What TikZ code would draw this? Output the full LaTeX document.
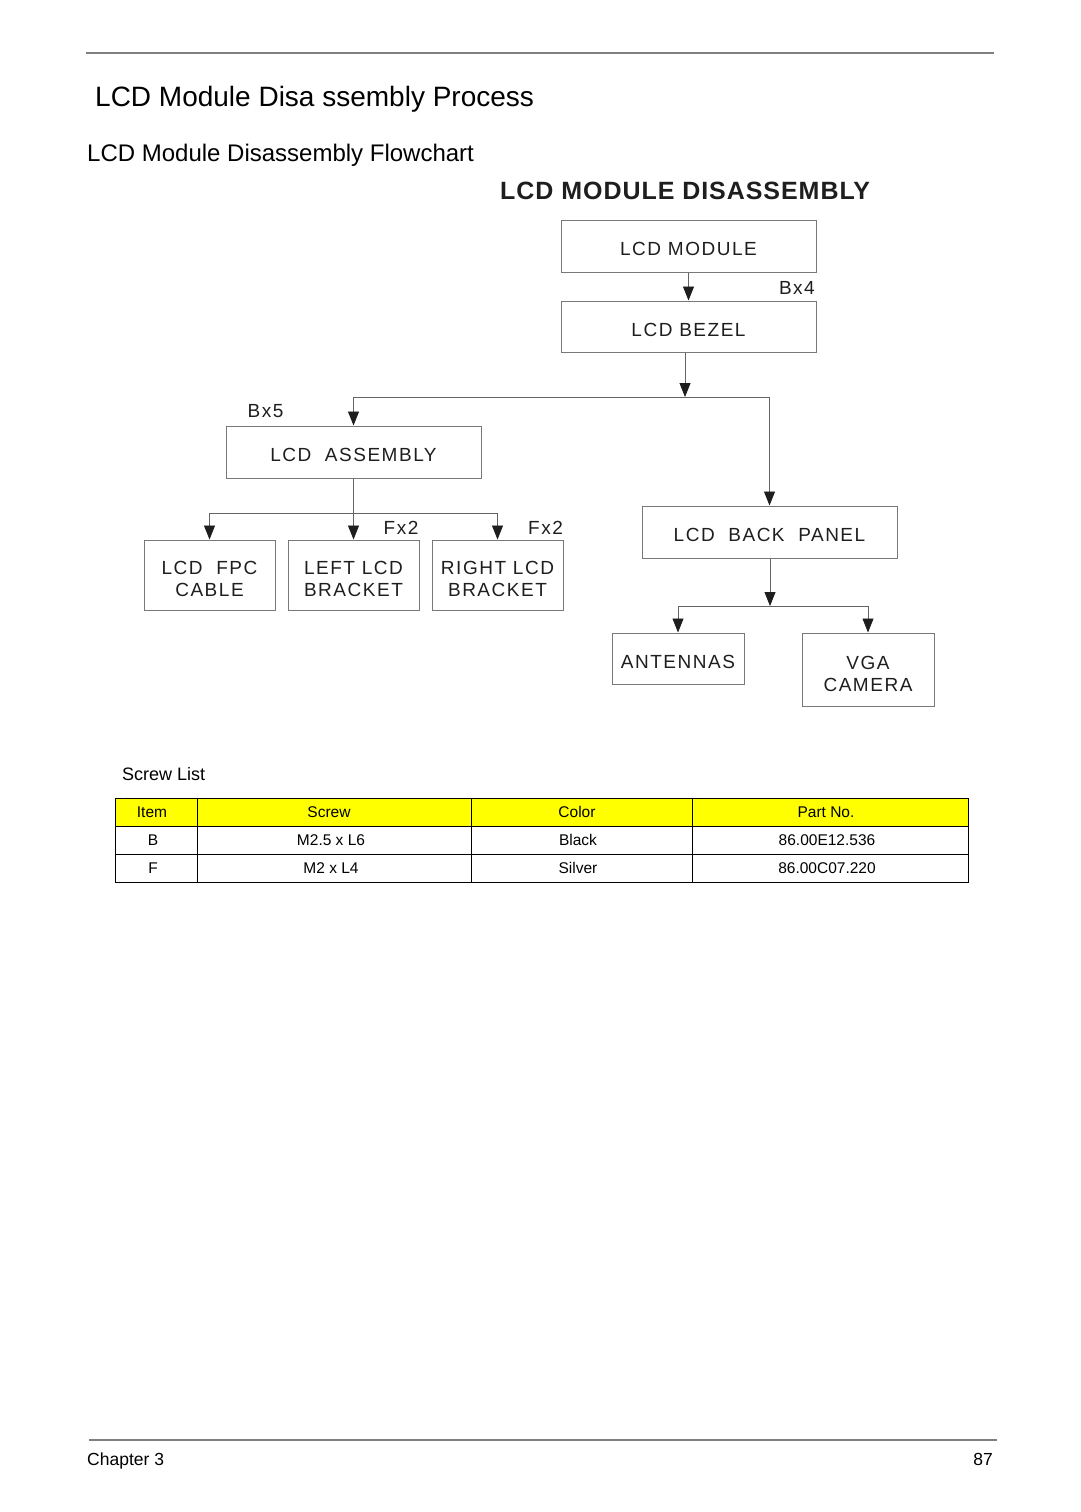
\documentclass[tikz,border=0pt]{standalone}
\usepackage{fontspec}
\setmainfont{Liberation Sans}
\newfontfamily\boxfont{Liberation Sans}[LetterSpace=8]
\newfontfamily\headfont{Liberation Sans}[LetterSpace=3.8]
\usetikzlibrary{arrows.meta,positioning}
\definecolor{boxgray}{RGB}{120,120,120}
\definecolor{linegray}{RGB}{100,100,100}
\definecolor{rulegray}{RGB}{128,128,128}
\definecolor{tipdark}{RGB}{30,30,30}
\definecolor{headyellow}{RGB}{255,255,0}
\newcommand{\twolines}[2]{\rule{0pt}{21.6pt}#1\\#2}
\tikzstyle{part} = [rectangle, draw=boxgray, line width=1pt, minimum width=255pt, minimum height=52pt, inner sep=0pt, align=center, text=tipdark, font=\boxfont\fontsize{19}{22}\selectfont, execute at begin node={\rule{0pt}{20pt}}]
\tikzstyle{small part} = [part, minimum width=131pt, minimum height=70pt, execute at begin node={}]
\tikzstyle{link} = [line width=0.8pt, color=linegray]
\tikzstyle{arrow} = [link, -{Triangle[length=14pt,width=11pt,color=tipdark]}]
\tikzstyle{screwcount} = [inner sep=0pt, text=tipdark, font=\boxfont\fontsize{19}{22}\selectfont]
\tikzstyle{cell} = [inner sep=0pt, font=\fontsize{15.5}{18}\selectfont]
\tikzstyle{pagetext} = [inner sep=0pt, anchor=base west]

\begin{document}
\begin{tikzpicture}[x=1pt, y=-1pt]
\useasboundingbox (0,0) rectangle (1080,1512);

% Page header
\draw[rulegray, line width=2pt] (86,53) -- (994,53);
\node[pagetext, font=\fontsize{28}{32}\selectfont] (title) at (95,106) {LCD Module Disa ssembly Process};
\node[pagetext, font=\fontsize{24}{28}\selectfont] (subtitle) at (87,161) {LCD Module Disassembly Flowchart};
\node[pagetext, font=\headfont\bfseries\fontsize{25}{28}\selectfont, text=tipdark] (heading) at (500,199) {LCD MODULE DISASSEMBLY};

% Parts
\node[part] (module) at (688.5,246) {LCD MODULE};
\node[part, minimum height=51pt] (bezel) at (688.5,326.5) {LCD BEZEL};
\node[part] (assembly) at (353.5,452) {LCD\ \ ASSEMBLY};
\node[small part] (fpc) at (209.5,575) {\twolines{LCD\ \ FPC}{CABLE}};
\node[small part] (leftbr) at (353.5,575) {\twolines{LEFT LCD}{BRACKET}};
\node[small part] (rightbr) at (497.5,575) {\twolines{RIGHT LCD}{BRACKET}};
\node[part] (backpanel) at (769.5,532) {LCD\ \ BACK\ \ PANEL};
\node[part, minimum width=132pt, minimum height=51pt] (antennas) at (678,658.5) {ANTENNAS};
\node[small part, minimum width=132pt, minimum height=73pt] (camera) at (868,669.5) {\twolines{VGA}{CAMERA}};

% Junctions
\coordinate (split1) at (685,397);
\coordinate (split2) at (353.5,513);
\coordinate (split3) at (770,606);

% Arrows
\draw[arrow] (module) -- (bezel);
\draw[arrow] (bezel.south -| split1) -- (split1);
\draw[arrow] (split1) -| (assembly.north);
\draw[arrow] (split1) -| (backpanel.north);
\draw[arrow] (assembly) -- (leftbr);
\draw[arrow] (split2) -| (fpc.north);
\draw[arrow] (split2) -| (rightbr.north);
\draw[arrow] (backpanel.south -| split3) -- (split3);
\draw[arrow] (split3) -| (antennas.north);
\draw[arrow] (split3) -| (camera.north);

% Screw counts
\node[screwcount, anchor=east] (bx4) at (815,288) {Bx4};
\node[screwcount] (bx5) at (265.5,411) {Bx5};
\node[screwcount] (fx2a) at (401,528) {Fx2};
\node[screwcount] (fx2b) at (545.5,528) {Fx2};

% Screw list
\node[pagetext, font=\fontsize{18}{21}\selectfont] (screwlist) at (122,780) {Screw List};
\fill[headyellow] (115,798) rectangle (968,826);
\draw[line width=1pt] (115,798) rectangle (968,882);
\foreach \y in {826,854} \draw[line width=1pt] (115,\y) -- (968,\y);
\foreach \x in {197,471,692} \draw[line width=1pt] (\x,798) -- (\x,882);
\node[cell] (h1) at (152,812) {Item};
\node[cell] (h2) at (329,812) {Screw};
\node[cell] (h3) at (577,812) {Color};
\node[cell] (h4) at (826,812) {Part No.};
\node[cell] (b1) at (153,840) {B};
\node[cell] (b2) at (331,840) {M2.5 x L6};
\node[cell] (b3) at (578,840) {Black};
\node[cell] (b4) at (827,840) {86.00E12.536};
\node[cell] (f1) at (153,868) {F};
\node[cell] (f2) at (331,868) {M2 x L4};
\node[cell] (f3) at (578,868) {Silver};
\node[cell] (f4) at (827,868) {86.00C07.220};

% Page footer
\draw[rulegray, line width=1.5pt] (89,1440) -- (997,1440);
\node[pagetext, font=\fontsize{17.5}{21}\selectfont] (chapter) at (87,1465) {Chapter 3};
\node[pagetext, anchor=base east, font=\fontsize{17.5}{21}\selectfont] (pageno) at (993,1465) {87};
\end{tikzpicture}
\end{document}
